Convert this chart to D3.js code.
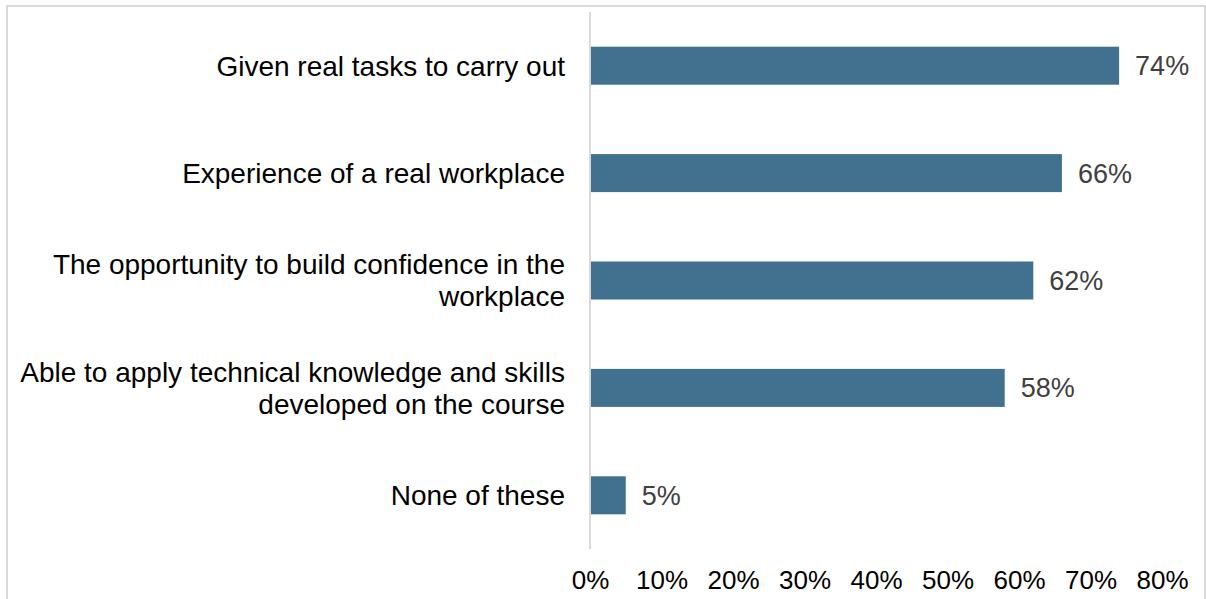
<!DOCTYPE html>
<html lang="en">
<head>
<meta charset="UTF-8">
<title>Work placement benefits</title>
<style>
html, body { margin: 0; padding: 0; background: #fff; }
body { font-family: 'Liberation Sans', Arial, sans-serif; }
.frame { fill: none; stroke: #d9d9d9; stroke-width: 2; }
.axis-line { stroke: #d9d9d9; stroke-width: 2; }
.cat { font-size: 28px; fill: #000; }
.val { font-size: 27px; fill: #404040; }
.tick text { font-size: 26px; fill: #000; font-family: 'Liberation Sans', Arial, sans-serif; }
</style>
</head>
<body>
<svg width="1206" height="599"></svg>
<script src="https://cdnjs.cloudflare.com/ajax/libs/d3/7.8.5/d3.min.js"></script>
<script>
// data
const categories = [
  ['Given real tasks to carry out'],
  ['Experience of a real workplace'],
  ['The opportunity to build confidence in the', 'workplace'],
  ['Able to apply technical knowledge and skills', 'developed on the course'],
  ['None of these']
];
const values = [74, 66, 62, 58, 5];
const tickValues = [0, 10, 20, 30, 40, 50, 60, 70, 80];

var svg = d3.select('svg');

svg.append('rect')
  .attr('class', 'frame')
  .attr('x', 7).attr('y', 6)
  .attr('width', 1198).attr('height', 620);

var x = d3.scaleLinear().domain([0, 80]).range([590, 1162]);
var y = d3.scaleBand()
  .domain(d3.range(categories.length))
  .range([12, 549])
  .paddingInner(0.646)
  .paddingOuter(0.323);

svg.append('g')
  .selectAll('rect')
  .data(values)
  .enter()
  .append('rect')
  .attr('x', x(0))
  .attr('y', (d, i) => y(i))
  .attr('width', d => x(d) - x(0))
  .attr('height', y.bandwidth())
  .attr('fill', '#41718f');

svg.append('line')
  .attr('class', 'axis-line')
  .attr('x1', x(0)).attr('x2', x(0))
  .attr('y1', 12).attr('y2', 549);

// value labels
svg.append('g')
  .selectAll('text')
  .data(values)
  .enter()
  .append('text')
  .attr('class', 'val')
  .attr('x', d => x(d) + 16)
  .attr('y', (d, i) => y(i) + y.bandwidth() / 2)
  .attr('dy', '0.35em')
  .text(d => d + '%');

// category labels, possibly two lines
var lineGap = 32;
svg.append('g')
  .selectAll('text')
  .data(categories)
  .enter()
  .append('text')
  .attr('class', 'cat')
  .attr('text-anchor', 'end')
  .each(function (lines, i) {
    var cy = y(i) + y.bandwidth() / 2;
    var top = cy - (lines.length - 1) * lineGap / 2;
    d3.select(this).selectAll('tspan')
      .data(lines)
      .enter()
      .append('tspan')
      .attr('x', 565)
      .attr('y', (l, j) => top + j * lineGap)
      .attr('dy', '0.35em')
      .text(l => l);
  });

var axis = svg.append('g')
  .attr('transform', 'translate(0,571)')
  .call(d3.axisBottom(x)
    .tickValues(tickValues)
    .tickSize(0)
    .tickPadding(0)
    .tickFormat(d => d + '%'));
axis.select('.domain').remove();
axis.selectAll('.tick text').attr('dy', '0.71em');
</script>
</body>
</html>
